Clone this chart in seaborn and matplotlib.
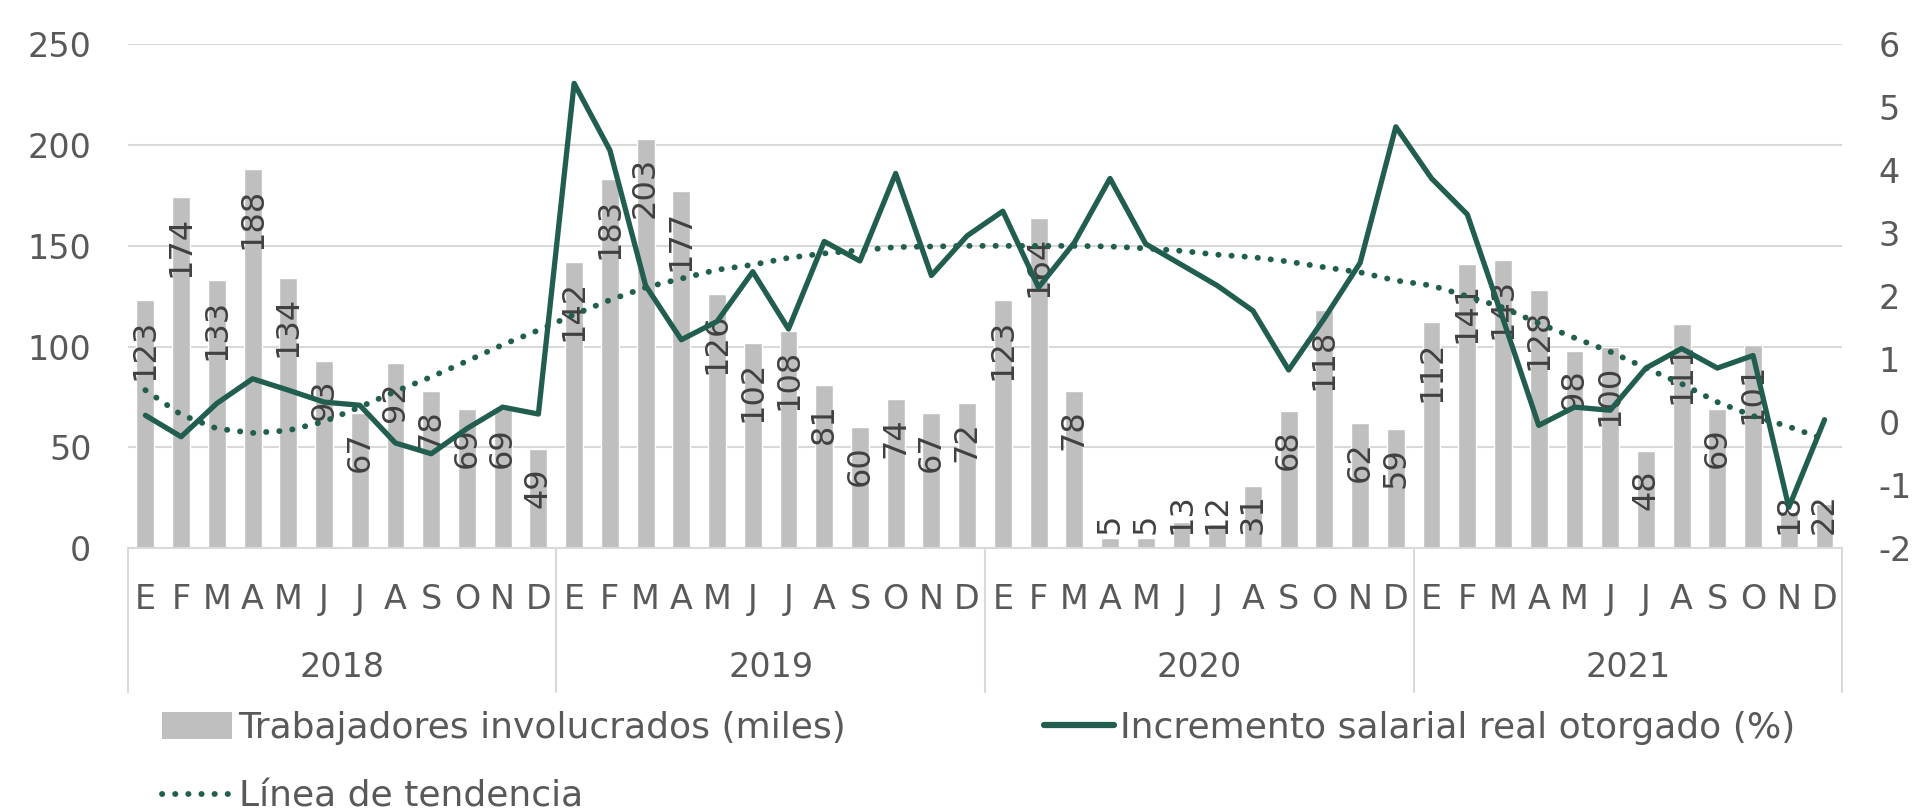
import matplotlib
matplotlib.use("Agg")
import matplotlib.pyplot as plt
import seaborn as sns
import pandas as pd
from matplotlib.lines import Line2D
from matplotlib.patches import Patch

years = ["2018", "2019", "2020", "2021"]
months = ["E", "F", "M", "A", "M", "J", "J", "A", "S", "O", "N", "D"]

# trabajadores involucrados (miles)
workers_2018 = [123, 174, 133, 188, 134, 93, 67, 92, 78, 69, 69, 49]
workers_2019 = [142, 183, 203, 177, 126, 102, 108, 81, 60, 74, 67, 72]
workers_2020 = [123, 164, 78, 5, 5, 13, 12, 31, 68, 118, 62, 59]
workers_2021 = [112, 141, 143, 128, 98, 100, 48, 111, 69, 101, 18, 22]

# incremento salarial real otorgado (%)
salary_2018 = [0.11, -0.23, 0.30, 0.69, 0.51, 0.32, 0.27, -0.33, -0.50, -0.10, 0.24, 0.13]
salary_2019 = [5.38, 4.32, 2.17, 1.31, 1.60, 2.39, 1.48, 2.87, 2.56, 3.95, 2.33, 2.96]
salary_2020 = [3.35, 2.14, 2.85, 3.87, 2.83, 2.50, 2.17, 1.77, 0.83, 1.65, 2.53, 4.69]
salary_2021 = [3.87, 3.30, 1.64, -0.05, 0.24, 0.19, 0.86, 1.17, 0.86, 1.06, -1.35, 0.04]

# linea de tendencia
trend_2018 = [0.51, 0.12, -0.10, -0.17, -0.13, 0.01, 0.24, 0.49, 0.72, 0.97, 1.23, 1.46]
trend_2019 = [1.71, 1.94, 2.14, 2.28, 2.42, 2.50, 2.61, 2.68, 2.73, 2.78, 2.79, 2.80]
trend_2020 = [2.80, 2.80, 2.80, 2.79, 2.76, 2.72, 2.66, 2.62, 2.55, 2.46, 2.38, 2.25]
trend_2021 = [2.17, 2.00, 1.82, 1.57, 1.34, 1.12, 0.86, 0.61, 0.32, 0.10, -0.07, -0.27]

df = pd.DataFrame({
    "idx": list(range(48)),
    "mes": months * 4,
    "workers": workers_2018 + workers_2019 + workers_2020 + workers_2021,
    "salary": salary_2018 + salary_2019 + salary_2020 + salary_2021,
    "trend": trend_2018 + trend_2019 + trend_2020 + trend_2021,
})

BAR = "#bfbfbf"
GREEN = "#215e4f"
TXT = "#595959"
LBL = "#404040"
GRID = "#d9d9d9"
FS = 24
DOTS = (0, (0.05, 2.2))

sns.set_theme(style="white")
plt.rcParams["font.family"] = ["DejaVu Sans"]
plt.rcParams["axes.unicode_minus"] = False

fig = plt.figure(figsize=(19.15, 8.11), dpi=100)
ax = fig.add_axes([0.0666, 0.324, 0.8955, 0.6214])

sns.barplot(data=df, x="idx", y="workers", color=BAR, saturation=1,
            width=0.5, ax=ax)
ax.set_ylim(0, 250)
ax.set_xlim(-0.5, 47.5)
ax.set_yticks([0, 50, 100, 150, 200, 250])
ax.yaxis.grid(True, color=GRID, lw=1.5)
ax.set_axisbelow(True)
ax.set_xlabel("")
ax.set_ylabel("")
for s in ["top", "left", "right"]:
    ax.spines[s].set_visible(False)
ax.spines["bottom"].set_color(GRID)
ax.spines["bottom"].set_linewidth(1.5)
ax.set_xticks(range(48))
ax.set_xticklabels(df["mes"])
ax.tick_params(axis="x", length=0, pad=25, labelsize=FS, labelcolor=TXT)
ax.tick_params(axis="y", length=0, pad=26, labelsize=FS, labelcolor=TXT)

# data labels, rotated, inside end of the bar
for i, v in enumerate(df["workers"]):
    txt_len = 9.5 * len(str(v))
    if v - 9 - txt_len >= 7:
        ax.text(i, v - 9, str(v), rotation=90, ha="center", va="top",
                fontsize=23, color=LBL)
    else:
        ax.text(i, 7, str(v), rotation=90, ha="center", va="bottom",
                fontsize=23, color=LBL)

ax2 = ax.twinx()
sns.lineplot(x=df["idx"], y=df["trend"], ax=ax2, color=GREEN, lw=4.2,
             linestyle=DOTS, dash_capstyle="round", sort=False)
sns.lineplot(x=df["idx"], y=df["salary"], ax=ax2, color=GREEN, lw=3.8,
             sort=False)
ax2.set_ylim(-2, 6)
ax2.set_xlim(-0.5, 47.5)
ax2.set_yticks(range(-2, 7))
ax2.set_ylabel("")
ax2.grid(False)
for s in ax2.spines.values():
    s.set_visible(False)
ax2.tick_params(axis="y", length=0, pad=26, labelsize=FS, labelcolor=TXT)

# year row and separators
tr = ax.get_xaxis_transform()
for k, y in enumerate(years):
    ax.text(k * 12 + 5.5, -0.236, y, transform=tr, ha="center", va="center",
            fontsize=FS, color=TXT)
for xb in [-0.5, 11.5, 23.5, 35.5, 47.5]:
    ax.plot([xb, xb], [0, -0.286], transform=tr, color=GRID, lw=1.5,
            clip_on=False)

# legend
h_bar = Patch(facecolor=BAR, edgecolor="none")
h_trend = Line2D([], [], color=GREEN, lw=4.2, linestyle=DOTS,
                 dash_capstyle="round")
h_line = Line2D([], [], color=GREEN, lw=4.5)
leg_kw = dict(loc="upper left", frameon=False, fontsize=26, borderpad=0,
              borderaxespad=0, handlelength=1.95, handleheight=0.75,
              handletextpad=0.17, labelcolor=TXT, labelspacing=0.95)
fig.legend([h_bar, h_trend],
           ["Trabajadores involucrados (miles)", "Línea de tendencia"],
           bbox_to_anchor=(0.0846, 0.123), **leg_kw)
fig.legend([h_line], ["Incremento salarial real otorgado (%)"],
           bbox_to_anchor=(0.545, 0.123), **leg_kw)

fig.savefig("out.png", dpi=100, facecolor="white")
